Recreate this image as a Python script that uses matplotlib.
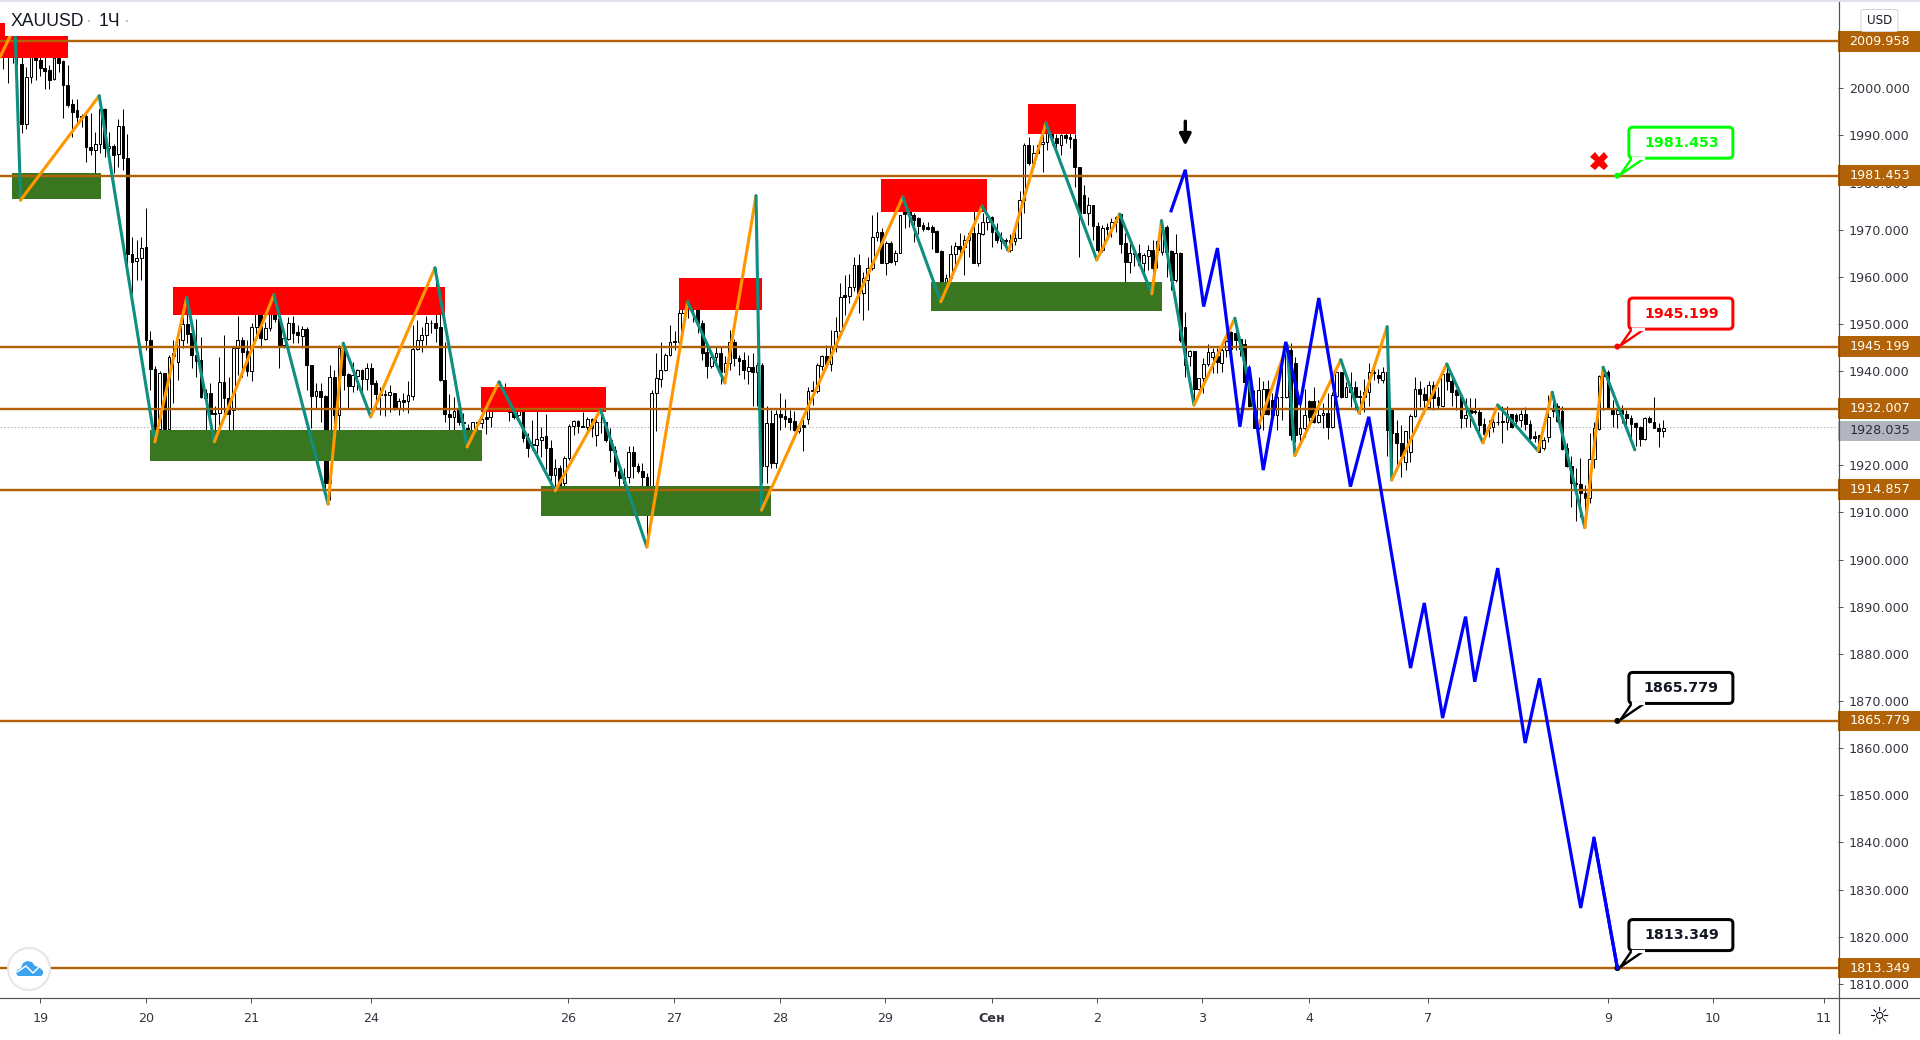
import numpy as np
import matplotlib
matplotlib.use("Agg")
import matplotlib.pyplot as plt
from matplotlib.patches import Rectangle, FancyBboxPatch, Polygon, Circle
from matplotlib.lines import Line2D
from matplotlib.transforms import Affine2D

plt.rcParams['font.family'] = ['DejaVu Sans']

# ---------- candles (hourly XAUUSD, prices) ----------
highs = [
 2011,2011,2011.5,2011,2006.6,2004.5,2009.7,2007.8,2007.8,2007.3,
 2005,2006.9,2007,2005.9,2005,1997.7,1997.7,1994.5,1994.5,1994.7,
 1990.7,1996.5,1995.8,1990.8,1988.2,1993.4,1995.5,1990.2,1968.5,1967.8,
 1968.4,1974.5,1948.4,1941,1940.1,1939.5,1943.4,1946.6,1947,1952.3,
 1955,1950.5,1951,1947.2,1936.3,1937.4,1932.5,1943,1947.7,1938.8,
 1944.8,1951.7,1947.3,1946.6,1950.3,1955,1953.7,1950.5,1953.7,1956,
 1953,1948,1951.5,1951.7,1949.8,1949.6,1949.3,1941.3,1937.4,1937.4,
 1934.9,1941.3,1940.2,1945.5,1945.5,1939.5,1942,1940.4,1940.4,1941.7,
 1941.7,1938.1,1936.7,1936,1937.1,1935.4,1934.2,1935.4,1937.8,1949.8,
 1950.8,
 1949.4,1951.6,1950.8,1961.8,1952.3,1946.2,1935.1,1934.6,1933.5,1931.1,
 1928.8,1929.3,1929.3,1931.4,1933.9,1935.4,1936.7,1937.8,1937.4,1934.6,
 1933.5,1936.1,1935.6,1926.8,1929.6,1931.8,1928.2,1931,1925.4,1921.3,
 1920.1,1922,1928.8,1929.6,1929.6,1931.4,1930.3,1930,1930.3,1931.4,
 1929.3,1927.9,1924,1920.8,1919.4,1924,1924,1920.4,1920.4,1918.3,
 1936,1943.8,1946.1,1943.8,1949.8,1948.4,1953.3,1954.7,1954.7,1954.7,
 1954,1950.8,1945.3,1944.1,1945.2,1945.2,1943.1,1948.7,1946.9,1943.4,
 1944.1,1943.4,1943.9,1942,1941.7,1932.5,1931.8,1931.8,1935.3,1934,
 1931.8,1931.6,1928.9,1931,1936.7,1937.8,1941.7,1943.4,1945.5,1948.7,
 1951.5,1958.6,
 1960.4,1960.7,1964.3,1964.8,1961.1,1964.3,1973.1,1973.8,1970.3,1967.5,
 1967.5,1965.7,1973.1,1976.7,1976.4,1973.5,1972.6,1971.7,1971.7,1971,
 1969.9,1965.6,1960.7,1966.8,1967.3,1969.2,1968.9,1969.6,1974,1971.4,
 1973.5,1973.1,1972.8,1971.4,1969.4,1968.2,1969.1,1970.8,1978.3,1988.3,
 1989.6,1988,1988,1990.8,1992.6,1992.2,1990.4,1990.4,1991.9,1991.9,
 1990.4,1983.4,1979.5,1977,1975.2,1971.7,1971,1971.4,1972.4,1972.9,
 1973.3,1969.2,1967.3,1966.4,1966.9,1965,1966.8,1967.8,1967.8,1972,
 1971,1965.7,1969.1,1965.3,1952.6,1944.5,1944.3,1938.5,1942.7,1945.7,
 1945,1945,
 1944.8,1946.5,1948.4,1948.4,1946.7,1946.7,1941.3,1936,1938.8,1938,
 1938.1,1935.3,1937.4,1941,1945.9,1946,1943,1934.6,1936.3,1933.9,
 1936.7,1933.9,1933.3,1935.3,1935.6,1939.9,1939.9,1937.6,1939.9,1937.8,
 1936,1938.3,1941.7,1941.7,1940.4,1940.8,1939.9,1931.9,1929.6,1928.6,
 1927.2,1931,1938.8,1937.8,1936.7,1937.8,1937.8,1936.6,1940.9,1941.3,
 1938.8,1936.1,1935.3,1934.2,1934.2,1934.2,1932.1,1930,1929.6,1930,
 1931.4,1932.5,1932.5,1931,1931.2,1931.8,1932.3,1929.6,1927.2,1926.4,
 1926.1,1934.9,1935.3,1933.2,1932.5,1924.7,1921.9,1919.4,1921.5,1915.8,
 1926.8,1929.3,1939.2,1940.9,1940.2,1933.9,1931.8,1932.8,1931.8,1930.7,
 1929.3,1928.4,1930.3,1930.5,1934.6,1928.9,1929.6,
]
body_tops = [
 2008,2008.1,2011,2011,2005.2,2002.3,2006.9,2006.9,2006,2004.2,
 2003.9,2006.5,2006.5,2005.7,2000.7,1996.7,1995.3,1994.1,1994.1,1987.5,
 1988.1,1995.6,1995.6,1987.7,1987.7,1992,1992,1985.2,1964.8,1963.9,
 1966.2,1966.3,1946.6,1940.4,1939.5,1939.5,1943,1943.8,1946.8,1950,
 1950,1948,1943.5,1942.4,1935.3,1935.3,1931.2,1937.6,1937.6,1934.2,
 1944.8,1946.6,1946.6,1944.3,1949.4,1952.6,1952.6,1949.1,1953,1953,
 1951,1947,1950.3,1950.3,1948.2,1948.9,1948.9,1941.3,1935.8,1935.8,
 1934.8,1938.7,1938.7,1945,1945.2,1939.3,1939.2,1940.2,1940.2,1940.6,
 1940.6,1937.4,1935.1,1935.1,1935.5,1935.4,1933.7,1933.9,1934.9,1944.6,
 1946.5,
 1947.7,1950.1,1950.1,1950.1,1949.3,1938.2,1930.9,1931.6,1931.9,1929.1,
 1927.9,1929.3,1929.3,1929.9,1930.3,1934.7,1935.1,1936.3,1936.3,1933.5,
 1931.6,1935.1,1935.1,1925.7,1924.5,1925.5,1926.1,1926.2,1923.7,1919.4,
 1919.4,1921.5,1928.4,1929.4,1929.4,1928.4,1929.8,1929.8,1929.3,1929.3,
 1929.1,1925.4,1923.3,1918.7,1917.6,1922.9,1922.9,1919.9,1918.7,1917.6,
 1935.3,1938.5,1940.2,1943.4,1946.2,1946.4,1952.3,1953.8,1953.8,1953.8,
 1953.8,1950.3,1944.1,1942.9,1943.8,1943.8,1941.8,1946.2,1946.2,1942.7,
 1942.4,1940.8,1940.8,1941.2,1941.2,1928.9,1928.9,1930.8,1930.8,1930.5,
 1930,1929.4,1928.4,1928.6,1935.7,1936,1941.2,1943.1,1943.1,1945.3,
 1948.5,1955.8,
 1956.1,1957.9,1962.5,1962.5,1959.7,1961.8,1968.5,1969.6,1969.6,1967.1,
 1967.1,1965,1973.1,1976.4,1976.4,1973.1,1972.4,1971,1970.6,1970.5,
 1969.8,1965.5,1959.8,1964.8,1966.5,1966.5,1967.8,1969.2,1969.2,1969.2,
 1971.7,1972.6,1972.6,1969.6,1968,1967.8,1967.8,1968.3,1976.4,1988,
 1988,1986.3,1988,1988.5,1992.2,1992.2,1989.4,1990.1,1990.1,1989.7,
 1989.2,1983.2,1977.4,1975.2,1975.2,1970.8,1970.4,1970.6,1971.6,1972.6,
 1973.3,1967.1,1965,1965,1965,1964.6,1965.7,1965.7,1967.5,1970.6,
 1970.6,1965.4,1965,1965,1949.3,1944.3,1944.2,1938.5,1941.5,1944.1,
 1944.1,1943.1,
 1944.5,1946.3,1948.2,1948,1946.7,1945.8,1937.8,1932.8,1936,1936.1,
 1936.1,1933.9,1934.6,1934.6,1944.5,1944.5,1941.8,1927.9,1930.7,1933.7,
 1933.7,1930.7,1931.2,1931.2,1934.9,1939.7,1939.7,1936.7,1936.6,1936.6,
 1934.7,1935.6,1939.9,1939.9,1939.2,1939.9,1939.9,1931.8,1926.8,1924.8,
 1927.2,1930.5,1936.1,1936.1,1935.1,1937.1,1937.1,1934.6,1939.4,1939.5,
 1938,1935.9,1934.9,1930.7,1931.8,1931.6,1931.3,1928.8,1928.2,1929.3,
 1929.3,1929.4,1930.9,1930.9,1930.7,1931,1930.9,1928.8,1926.3,1926.4,
 1925.4,1930.3,1931.8,1932.5,1931.6,1923.6,1919.9,1916.3,1916,1914.2,
 1921.3,1927.9,1939,1939.9,1939.9,1931.8,1931.8,1931.8,1931,1930.1,
 1928.9,1928.2,1930,1930,1929.3,1928,1928,
]
body_bots = [
 2007.4,2007.1,2007.2,2007.4,1992.4,1992.4,2002.3,2005.9,2004.2,2003.7,
 2001.8,2001.9,2005.4,2000.6,1996.5,1995,1994,1994,1987.5,1986.8,
 1986.8,1988.1,1987.3,1987.3,1985.9,1986,1985.1,1964.8,1963.2,1963.3,
 1963.9,1946.5,1940.4,1927.8,1927.8,1927.8,1927.8,1943.1,1942,1946.6,
 1947.9,1943.5,1942.2,1934.4,1934.2,1931,1931,1931.2,1934.2,1931,
 1931.8,1944.8,1944.1,1940.1,1940.1,1949.4,1947,1946.8,1949.1,1951,
 1945.5,1945.5,1946.8,1948,1947.6,1947.5,1941.3,1934.8,1934.7,1934.6,
 1916.2,1916.2,1930.7,1930.7,1939.2,1936.9,1936.9,1939,1938.4,1938.4,
 1937.3,1935.1,1934.9,1934.9,1935,1932.1,1932.1,1933.5,1933.7,1934.8,
 1944.6,
 1946.5,1947.7,1950.1,1949.2,1938.1,1930.9,1930.3,1930.3,1929.1,1928.9,
 1927.1,1927.4,1928.9,1928.9,1929.9,1930.2,1934.7,1934.9,1933,1931.4,
 1930.3,1930.7,1925.7,1923.6,1924.3,1924.3,1925.4,1923.6,1917.9,1917.9,
 1914.8,1916.2,1921.5,1928.4,1928.4,1928.2,1928.2,1927.9,1926.5,1929.1,
 1925.4,1923.3,1918.7,1917.3,1916.2,1917.5,1919.9,1918.7,1917.6,1911.6,
 1911.6,1935.3,1938.3,1940.2,1943.4,1946.2,1946.2,1952.3,1953.5,1953.5,
 1950.3,1943.9,1941.1,1941.1,1942.9,1939.8,1939.8,1941.8,1942.7,1942.2,
 1940.2,1940.1,1939.9,1939.9,1919.9,1919.9,1920.4,1920.6,1930.3,1929.8,
 1929.3,1927.4,1927.2,1928.2,1929.8,1935.7,1935.8,1941,1941.5,1941.5,
 1945.3,1948.5,
 1955.8,1956,1957.9,1956.5,1956.5,1959.3,1961.8,1968.4,1963,1963,
 1963.2,1963.4,1965,1973.3,1973.2,1972,1970.8,1970.1,1970.1,1969.6,
 1965.3,1958.6,1958.6,1959.8,1964.8,1966,1966.4,1967.8,1963,1963,
 1969.1,1971.7,1969.6,1967.8,1967.7,1967.5,1965.7,1967.7,1968.3,1976.4,
 1984.1,1984.1,1986.3,1988.1,1988.5,1989.4,1988.3,1988,1989.4,1989.2,
 1983.2,1973.5,1973.5,1973.5,1970.8,1965.7,1965.7,1970.2,1970.4,1971.6,
 1967,1963.2,1963.2,1964.8,1962.5,1963,1964.4,1961.8,1965.7,1965.3,
 1965.3,1959.3,1959.3,1946.6,1941.3,1943.3,1936.3,1936.3,1938.5,1941.5,
 1942.9,1941.9,
 1941.7,1944.5,1944.6,1946.6,1944.6,1937.6,1932.6,1927.9,1927.9,1930.9,
 1930.9,1930.7,1930.7,1934.4,1934.6,1926.4,1926.4,1926.6,1927.9,1930.3,
 1929.3,1929.3,1930.7,1928.1,1928.1,1934.7,1934.6,1934.6,1935.6,1934.6,
 1934.6,1934.6,1935.6,1939.5,1938.5,1938.1,1927.5,1926.8,1924.7,1921.9,
 1920.8,1922.9,1930.5,1935.1,1933.9,1932.3,1934.2,1932.8,1932.6,1937.8,
 1935.6,1934.9,1930,1930,1931.2,1931.3,1928.6,1926.7,1927.9,1928.2,
 1929.1,1929.3,1929.3,1928.2,1929.5,1929.6,1928.7,1925.7,1925.7,1922.9,
 1923.6,1926.1,1931.6,1929.5,1923.4,1919.9,1916.3,1916,1914.2,1913,
 1913,1921.3,1927.7,1939,1932.1,1930.8,1930.8,1931,1930,1928.8,
 1928.1,1925.6,1925.6,1929.3,1928,1927.2,1927.2,
]
lows = [
 2004,2001.2,2005.3,2005,1990.5,1991.4,2001.2,2001.8,2002.6,1999.8,
 1999.9,2001.8,2003.5,1993.6,1996,1989.7,1991.9,1991.7,1984.4,1985.9,
 1980.7,1986.2,1985.5,1984.8,1982,1983.4,1982.7,1962.2,1956.5,1959.3,
 1959.3,1944.5,1936,1926.1,1927.5,1926.1,1925,1933.2,1938.1,1944.8,
 1946,1940.6,1938.7,1934.2,1927.5,1927.9,1925,1927.5,1931,1926.1,
 1927.5,1939.2,1938.8,1939,1937.8,1947.7,1945,1946.6,1948.4,1950.5,
 1940.6,1944.8,1946.6,1946,1945.9,1944.8,1936,1928,1932.1,1929.3,
 1914,1912.6,1927.9,1921.7,1936,1932.1,1935.6,1936,1935.6,1936,
 1931.8,1932.1,1930.7,1930.5,1931.4,1931.8,1930.7,1931.6,1931.2,1933.9,
 1944.5,
 1944.1,1945.5,1948,1946.2,1938,1929.3,1927.6,1927.5,1928.6,1925.7,
 1924,1924.7,1927.5,1927.9,1926.7,1928.2,1933.3,1934.6,1932.6,1929.5,
 1929.8,1930.3,1925,1921.7,1923.3,1922.6,1921.8,1919.2,1916.2,1915.5,
 1914.4,1914.9,1921.1,1926.5,1926.8,1928.2,1926.8,1926.1,1924,1926.8,
 1925,1920.8,1917.7,1915,1913.7,1916.2,1917.3,1918.3,1914.1,1903,
 1909.1,1927.2,1936.7,1940.1,1943.2,1944.5,1945.5,1951.2,1951.2,1950.5,
 1948,1942.4,1938.6,1940.6,1941,1937.3,1938.5,1940.2,1941,1939.2,
 1938.3,1937.3,1932.5,1932.5,1916.2,1916.2,1919.4,1919.4,1927.5,1928.2,
 1927.5,1927.2,1926.8,1923,1928.8,1932.8,1935.4,1940.2,1941,1940.1,
 1944.1,1948,
 1951.9,1954.4,1956.9,1952.3,1950.8,1953,1961.5,1967.5,1962.9,1960.4,
 1962.9,1962.5,1965,1970.3,1970.5,1967.3,1969.1,1969.8,1969.9,1965.8,
 1965.3,1955.1,1958.3,1959.3,1962.5,1965,1960.3,1964.3,1962.9,1962.2,
 1968.9,1969.9,1966.3,1967.1,1966,1965.7,1965.3,1966.8,1968.2,1973.5,
 1983.7,1983.7,1986.2,1982.3,1986.8,1988,1986.2,1985.9,1988.3,1987.3,
 1979.1,1964.3,1973.5,1971,1967.8,1965.3,1965.3,1968.2,1968.5,1969.6,
 1965,1959,1960.9,1962.2,1962.2,1960,1961.5,1957.9,1961.8,1964.6,
 1960,1957.2,1959,1946.2,1938.8,1941,1933.9,1935.6,1935.3,1941,
 1939.5,1939.5,
 1939.9,1943,1942,1944.5,1943.1,1937.4,1932.4,1927.9,1927.7,1927.5,
 1930.7,1929.6,1927.4,1929.6,1934.2,1925.4,1925,1925,1926.1,1928.6,
 1929,1929,1927.9,1925.5,1928,1934.6,1934.2,1934.4,1932.4,1931.8,
 1931,1931.4,1932.5,1938.1,1937.4,1937.4,1921.9,1917.6,1919,1917.6,
 1919,1920.8,1930.3,1932.4,1931,1932.1,1931.8,1932.1,1932.4,1936,
 1932.5,1931.8,1927.9,1928.2,1928.2,1931,1927.2,1925,1926.1,1927,
 1928.6,1924.7,1927.5,1927.9,1928.6,1928.2,1927.5,1925.4,1925,1922.8,
 1923.3,1925,1930.3,1929.3,1923.3,1919.7,1911.1,1908.1,1909.1,1907,
 1912,1919.4,1927.5,1931.8,1931.9,1928.2,1927.9,1928.9,1927.9,1926.1,
 1924,1924,1925.4,1928.9,1927.9,1923.8,1926.1,
]
rising = [
 1,0,1,0,0,1,1,0,0,0, 0,1,0,0,0,0,0,0,0,0, 1,1,0,1,0,1,0,0,0,1,
 1,0,0,0,1,0,1,0,1,1, 0,0,0,0,0,0,0,1,0,0, 1,1,0,0,1,1,0,1,1,0,
 0,1,1,0,0,1,0,0,1,0, 0,1,0,1,0,0,1,1,0,1, 0,0,0,0,1,0,1,0,1,1, 1,
 1,1,1,0,0,0,0,1,0,0, 0,1,0,1,0,1,1,1,0,0, 0,1,0,0,0,1,1,0,0,1,
 0,1,1,1,0,0,1,0,1,0, 0,0,0,0,0,1,0,0,0,0, 1,1,1,1,1,1,1,1,1,0,
 0,0,0,1,1,0,1,1,0,0, 0,1,0,1,0,1,0,1,0,0, 0,0,1,0,1,0,1,1,0,1, 1,1,
 0,1,1,0,1,1,1,1,0,1, 0,1,1,0,0,0,0,0,0,0, 0,0,1,1,1,0,1,1,0,1,
 1,1,0,0,0,0,1,1,1,1, 0,1,1,1,1,0,0,1,0,0, 0,0,0,1,0,0,1,0,1,1,
 0,0,1,1,0,1,1,0,1,1, 0,0,1,0,0,1,0,1,1,1, 1,0,
 1,1,0,0,0,0,0,0,1,1, 0,0,1,0,1,0,0,1,1,0, 0,1,1,0,1,1,0,1,0,0,
 0,1,1,1,0,1,0,0,0,0, 1,1,1,0,0,1,0,0,1,0, 0,0,0,1,0,0,0,0,1,1,
 1,0,1,0,0,1,0,0,0,0, 1,1,0,0,0,0,0,0,0,0, 1,1,1,0,0,0,1,0,0,0,
 0,0,1,0,0,0,1,
]

# ---------- zigzag wave (bar number, price); legs alternate orange / teal ----------
zig_bars = [-8.83,-5.56,-4.32,12.8,24.96,31.87,37.9,50.9,62.7,66.0,72.0,86.0,93.0,99.96,112.2,122.1,
            132.2,141.1,149.2,156.0,157.2,188.0,196.3,205.3,211.1,219.2,230.3,235.3,242.3,244.4,251.5,
            260.4,265.5,271.8,273.5,283.5,287.5,293.6,294.6,306.6,314.5,317.7,326.5,329.6,336.7,340.7,347.6]
zig_prices = [2006.6,2013.2,1976.3,1998.4,1925.0,1955.6,1925.0,1956.2,1911.8,1945.9,1930.3,1961.9,1923.9,
              1937.7,1914.6,1931.8,1902.7,1954.7,1937.5,1977.2,1910.5,1976.9,1954.7,1975.0,1965.5,1992.6,
              1963.6,1973.3,1956.4,1971.9,1932.8,1951.2,1928.2,1945.5,1922.1,1942.4,1931.1,1949.4,1916.9,
              1941.5,1924.8,1932.8,1923.1,1935.5,1906.8,1940.8,1923.3]
# ---------- blue forecast path ----------
fc_bars = [246.5,249.6,253.6,256.6,261.5,263.5,266.6,271.5,274.6,278.7,285.6,289.6,298.7,301.7,305.7,310.7,
           312.7,317.7,323.7,326.8,335.8,338.7,343.8]
fc_prices = [1974.0,1982.7,1953.7,1966.1,1928.2,1940.9,1919.0,1946.2,1932.8,1955.5,1915.5,1930.3,1877.0,1890.8,
             1866.4,1887.9,1874.1,1898.2,1861.1,1874.8,1826.1,1840.9,1813.349]
# ---------- supply / demand zones: bar from, bar to, price low, price high ----------
red_from = [-8.83,-8.83,28.9,96.0,139.3,183.3,215.4]
red_to   = [-7.8,6.0,88.2,123.3,157.4,206.4,225.7]
red_low  = [2011.1,2006.5,1951.8,1931.4,1953.0,1973.8,1990.3]
red_high = [2013.9,2011.1,1957.9,1936.6,1959.8,1980.8,1996.7]
green_from = [-6.2,23.9,109.2,194.2]
green_to   = [13.2,96.2,159.3,244.6]
green_low  = [1976.5,1921.0,1909.3,1952.8]
green_high = [1982.0,1927.5,1915.6,1958.9]
# ---------- levels and axes ----------
levels = [2009.958,1981.453,1945.199,1932.007,1914.857,1865.779,1813.349]
last_price = 1928.035
last_tag_center = 1927.3
callout_prices = [1981.453,1945.199,1865.779,1813.349]
callout_colors = ['#00FF00','#FF0000','#000000','#000000']
callout_text = ['#00FF00','#FF0000','#131722','#131722']
y_ticks = [v for v in range(1810,2001,10) if v != 1930]
x_tick_bars = [0,23,46,72,115,138.1,161.2,184.2,207.4,230.3,253.3,276.6,302.5,341.7,364.6,388.8]
x_tick_labels = ['19','20','21','24','26','27','28','29','Сен','2','3','4','7','9','10','11']

n = len(highs)
for name, arr in [('tops',body_tops),('bots',body_bots),('lows',lows),('rising',rising)]:
    if len(arr) != n:
        raise ValueError(f'{name} {len(arr)} != {n}')
bar_x = np.linspace(-8.1, 353.8, n)

W, H = 1920, 1040
AX_R, AX_B, AX_T = 1838, 998, 2
fig = plt.figure(figsize=(W/100, H/100), dpi=100, facecolor='white')
ax = fig.add_axes([0, 1-AX_B/H, AX_R/W, (AX_B-AX_T)/H], facecolor='white')
ax.set_xlim(-8.83, 391.9)
ax.set_ylim(1807.0, 2018.3)
for s in ax.spines.values():
    s.set_visible(False)

AXC = '#50535E'; TXT = '#33363f'; BROWN = '#B26206'; ORANGE = '#FF9800'; TEAL = '#0E8F80'
PX = 0.72

# candles
hi, lo, top, bot, up = map(np.array, (highs, lows, body_tops, body_bots, rising))
ax.vlines(bar_x, lo, hi, color='black', lw=1*PX, zorder=2)
ax.bar(bar_x, top-bot, bottom=bot, width=0.6,
       color=['white' if u else 'black' for u in up], edgecolor='black', linewidth=1*PX, zorder=2.1)

# zones
for a, b, l, h in zip(red_from, red_to, red_low, red_high):
    ax.add_patch(Rectangle((a, l), b-a, h-l, fc='#FF0000', ec='none', zorder=3))
for a, b, l, h in zip(green_from, green_to, green_low, green_high):
    ax.add_patch(Rectangle((a, l), b-a, h-l, fc='#3A761F', ec='none', zorder=3))

# levels and price line
for p in levels:
    ax.axhline(p, color=BROWN, lw=2.4*PX, zorder=4)
ax.axhline(last_price, color='#B2B5BE', lw=1*PX, ls=(0, (1.5, 2)), zorder=1.5)

# zigzag
for k in range(len(zig_bars)-1):
    ax.plot(zig_bars[k:k+2], zig_prices[k:k+2], color=ORANGE if k % 2 == 0 else TEAL,
            lw=3.1*PX, solid_capstyle='round', zorder=5)
ax.plot(fc_bars, fc_prices, color='#0000FF', lw=3.2*PX, solid_joinstyle='miter', zorder=6)

# ticks
ax.yaxis.tick_right()
ax.set_yticks(y_ticks)
ax.set_yticklabels([f'{v:.3f}' for v in y_ticks])
ax.tick_params(axis='y', length=5*PX, width=1*PX, color=AXC, labelcolor=TXT, labelsize=9.2, pad=6*PX)
ax.set_xticks(x_tick_bars)
ax.set_xticklabels(x_tick_labels)
ax.tick_params(axis='x', length=5*PX, width=1*PX, color=AXC, labelcolor=TXT, labelsize=9.2, pad=9*PX)
for lab in ax.get_xticklabels():
    if lab.get_text() == 'Сен':
        lab.set_fontweight('bold')

# price tags on the scale
ytr = ax.get_yaxis_transform()
tag_w = (W-AX_R)/AX_R
for p in levels:
    ax.add_patch(Rectangle((1, p-2.2), tag_w, 4.4, transform=ytr, fc=BROWN, ec='none', clip_on=False, zorder=11))
    ax.text(1+11.5/AX_R, p, f'{p:.3f}', transform=ytr, color='white', fontsize=9.2, va='center', ha='left',
            clip_on=False, zorder=12)
ax.add_patch(Rectangle((1, last_tag_center-2.2), tag_w, 4.4, transform=ytr, fc='#B2B5BE', ec='none', clip_on=False, zorder=10))
ax.text(1+11.5/AX_R, last_tag_center, f'{last_price:.3f}', transform=ytr, color='#2a2e39', fontsize=9.2, va='center', ha='left',
        clip_on=False, zorder=10.5)

# callouts
fig.canvas.draw()
for p, c, tc in zip(callout_prices, callout_colors, callout_text):
    ox, oy = ax.transData.transform((fc_bars[-1], p))
    T = Affine2D().translate(ox, oy)
    ax.add_patch(Polygon([(3, 1), (14.5, 17.5), (27, 17.5)], closed=True, fc='white', ec=c, lw=2.4*PX,
                         transform=T, clip_on=False, zorder=7))
    ax.add_patch(FancyBboxPatch((11.5, 17.5), 104, 31, boxstyle='round,pad=0,rounding_size=4', fc='white', ec=c,
                                lw=3*PX, transform=T, clip_on=False, zorder=8))
    ax.add_line(Line2D([15.5, 25.5], [17.5, 17.5], color='white', lw=3.2*PX, transform=T, clip_on=False, zorder=8.5))
    ax.add_patch(Circle((0, 0), 3, fc=c, ec='none', transform=T, clip_on=False, zorder=8))
    ax.text(64, 33, f'{p:.3f}', color=tc, fontsize=10.3, fontweight='bold', ha='center', va='center',
            transform=T, clip_on=False, zorder=9)
# keep the forecast end on top of its dot
ax.plot(fc_bars[-2:], fc_prices[-2:], color='#0000FF', lw=3.2*PX, zorder=8.2)

# red cross and down arrow
ax.plot([339.8], [1984.6], marker='X', ms=18*PX, color='#FF0000', mew=0, zorder=7)
ax.annotate('', xy=(249.6, 1987.8), xytext=(249.6, 1993.0),
            arrowprops=dict(arrowstyle='-|>', color='black', lw=3.4*PX, mutation_scale=17, shrinkA=0, shrinkB=0), zorder=7)

# --------- chrome in pixel coordinates ----------
def fx(x): return x/W
def fy(y): return 1-y/H
def rect(x0, y0, x1, y1, **kw):
    fig.add_artist(Rectangle((fx(x0), fy(y1)), (x1-x0)/W, (y1-y0)/H, transform=fig.transFigure, **kw))
def line(xs, ys, **kw):
    fig.add_artist(Line2D([fx(x) for x in xs], [fy(y) for y in ys], transform=fig.transFigure, **kw))

rect(0, 0, W, 2, fc='#E0E3EB', ec='none', zorder=20)
line([0, W], [AX_B, AX_B], color=AXC, lw=1.2*PX, zorder=20)
line([AX_R+0.5, AX_R+0.5], [AX_T, 1033], color=AXC, lw=1.2*PX, zorder=20)

# legend
rect(5, 2, 135, 36, fc='white', ec='none', zorder=20)
fig.text(fx(11), fy(22), 'XAUUSD', family='Liberation Sans', fontsize=12.7, color='#131722', va='center', ha='left', zorder=21)
fig.text(fx(89), fy(22), '·', family='Liberation Sans', fontsize=12.7, color='#B2B5BE', va='center', ha='center', zorder=21)
fig.text(fx(99), fy(22), '1Ч', family='Liberation Sans', fontsize=12.7, color='#131722', va='center', ha='left', zorder=21)
fig.text(fx(127), fy(22), '·', family='Liberation Sans', fontsize=12.7, color='#B2B5BE', va='center', ha='center', zorder=21)

# USD button
fig.add_artist(FancyBboxPatch((fx(1861), fy(31.5)), 37/W, 22/H, boxstyle='round,pad=0,rounding_size=0.002',
                              mutation_aspect=H/W*1.0, transform=fig.transFigure, fc='white', ec='#D1D4DC', lw=1*PX, zorder=21))
fig.text(fx(1879.5), fy(20.5), 'USD', fontsize=8.6, color='#131722', va='center', ha='center', zorder=22)

# settings gear
fig.text(fx(1879), fy(1016.5), '☼', fontsize=17, color='#131722', va='center', ha='center', zorder=22)

# logo
fig.add_artist(Circle((29, H-969), 21, fc='white', ec='#E6E6E6', lw=2*PX,
                      transform=Affine2D(), zorder=21))
cloud_x = [18,16,17,21,23,27,32,35,39,43,43,41]
cloud_y = [976,973,970,968,963,961,962,966,967,971,974,976]
fig.add_artist(Polygon([(fx(a), fy(b)) for a, b in zip(cloud_x, cloud_y)], closed=True, fc='#3BA3EF', ec='none',
                       transform=fig.transFigure, zorder=22))
line([17, 26, 33, 39], [972, 966, 973, 967], color='white', lw=1.5*PX, zorder=23)

fig.savefig('out.png', dpi=100, facecolor='white')
